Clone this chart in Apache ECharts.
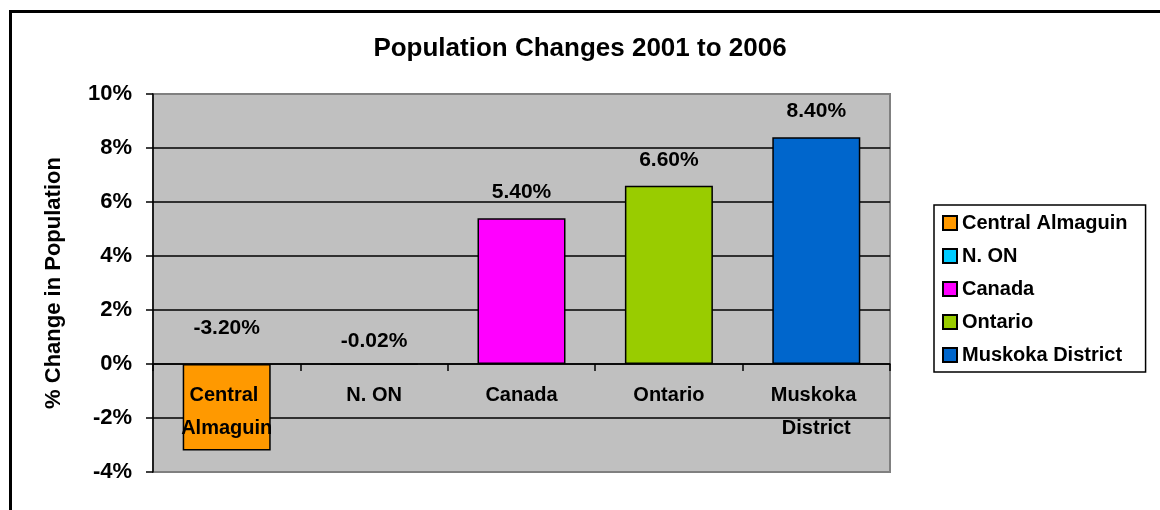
<!DOCTYPE html>
<html>
<head>
<meta charset="utf-8">
<script src="https://cdn.jsdelivr.net/npm/echarts@6/dist/echarts.min.js"></script>
<style>
html,body{margin:0;padding:0;background:#fff;}
#chart{width:1160px;height:510px;}
</style>
</head>
<body>
<div id="chart"></div>
<script>
// ---- data ----
const categories = ['Central Almaguin', 'N. ON', 'Canada', 'Ontario', 'Muskoka District'];
const values = [-3.2, -0.02, 5.4, 6.6, 8.4];
const yMin = -4, yMax = 10, yStep = 2;
const chartTitle = 'Population Changes 2001 to 2006';
const yAxisTitle = '% Change in Population';

// ---- styling ----
const colors = ['#FF9900', '#00CCFF', '#FF00FF', '#99CC00', '#0066CC'];
const labelDistances = [25, 12, 15, 15, 15];
const FONT = 'Liberation Sans, Arial, sans-serif';
const GRID = { left: 153, top: 94, right: 270, bottom: 38 };

const series = categories.map((name, i) => ({
  name: name,
  type: 'bar',
  stack: 'all',
  barWidth: 88,
  data: categories.map((c, j) => (j === i ? values[i] : '-')),
  itemStyle: { color: colors[i], borderColor: '#000', borderWidth: 1.5 },
  label: {
    show: true,
    position: 'top',
    distance: labelDistances[i],
    formatter: p => p.value.toFixed(2) + '%',
    color: '#000',
    fontFamily: FONT,
    fontWeight: 'bold',
    fontSize: 21
  },
  z: 2
}));

const chart = echarts.init(document.getElementById('chart'), null, { renderer: 'canvas' });
chart.setOption({
  backgroundColor: '#fff',
  animation: false,
  title: {
    text: chartTitle,
    left: 'center',
    top: 36,
    padding: 0,
    textStyle: { fontFamily: FONT, fontWeight: 'bold', fontSize: 26, color: '#000' }
  },
  legend: {
    orient: 'vertical',
    left: 934,
    top: 205,
    padding: [8, 18, 7, 8],
    itemWidth: 14,
    itemHeight: 14,
    itemGap: 13,
    icon: 'rect',
    borderColor: '#000',
    borderWidth: 1.5,
    backgroundColor: '#fff',
    textStyle: { fontFamily: FONT, fontWeight: 'bold', fontSize: 20, color: '#000', lineHeight: 19 },
    data: categories
  },
  grid: {
    left: GRID.left, top: GRID.top, right: GRID.right, bottom: GRID.bottom,
    outerBoundsMode: 'none',
    containLabel: false,
    show: true,
    backgroundColor: '#C0C0C0',
    borderColor: '#808080',
    borderWidth: 2
  },
  xAxis: {
    type: 'category',
    data: categories,
    z: 5,
    offset: 0,
    axisLine: { onZero: false, lineStyle: { color: '#000', width: 1.5 } },
    axisTick: { show: true, inside: false, length: 7, lineStyle: { color: '#000', width: 1.5 } },
    axisLabel: {
      margin: 15,
      color: '#000',
      fontFamily: FONT,
      fontWeight: 'bold',
      fontSize: 20,
      lineHeight: 33,
      width: 100,
      overflow: 'break',
      interval: 0
    },
    splitLine: { show: false }
  },
  yAxis: {
    type: 'value',
    min: yMin,
    max: yMax,
    interval: yStep,
    name: yAxisTitle,
    nameLocation: 'middle',
    nameRotate: 90,
    nameGap: 88,
    nameTextStyle: { fontFamily: FONT, fontWeight: 'bold', fontSize: 22, color: '#000' },
    axisLine: { show: true, lineStyle: { color: '#000', width: 1.5 } },
    axisTick: { show: true, inside: false, length: 7, lineStyle: { color: '#000', width: 1.5 } },
    axisLabel: {
      margin: 21,
      formatter: '{value}%',
      color: '#000',
      fontFamily: FONT,
      fontWeight: 'bold',
      fontSize: 22
    },
    splitLine: { show: true, showMinLine: false, showMaxLine: false, lineStyle: { color: '#000', width: 1.5 } }
  },
  graphic: [{
    type: 'rect',
    left: 8, top: 9,
    shape: { width: 1200, height: 600 },
    style: { fill: null, stroke: '#000', lineWidth: 3 },
    silent: true,
    z: 100
  }],
  series: series
});

// move the category axis (line, ticks, labels) up to the value-axis zero, as in the original
const zeroY = chart.convertToPixel({ yAxisIndex: 0 }, 0);
const gridBottomY = 510 - GRID.bottom;
chart.setOption({ xAxis: { offset: -(gridBottomY - zeroY) } });
</script>
</body>
</html>
